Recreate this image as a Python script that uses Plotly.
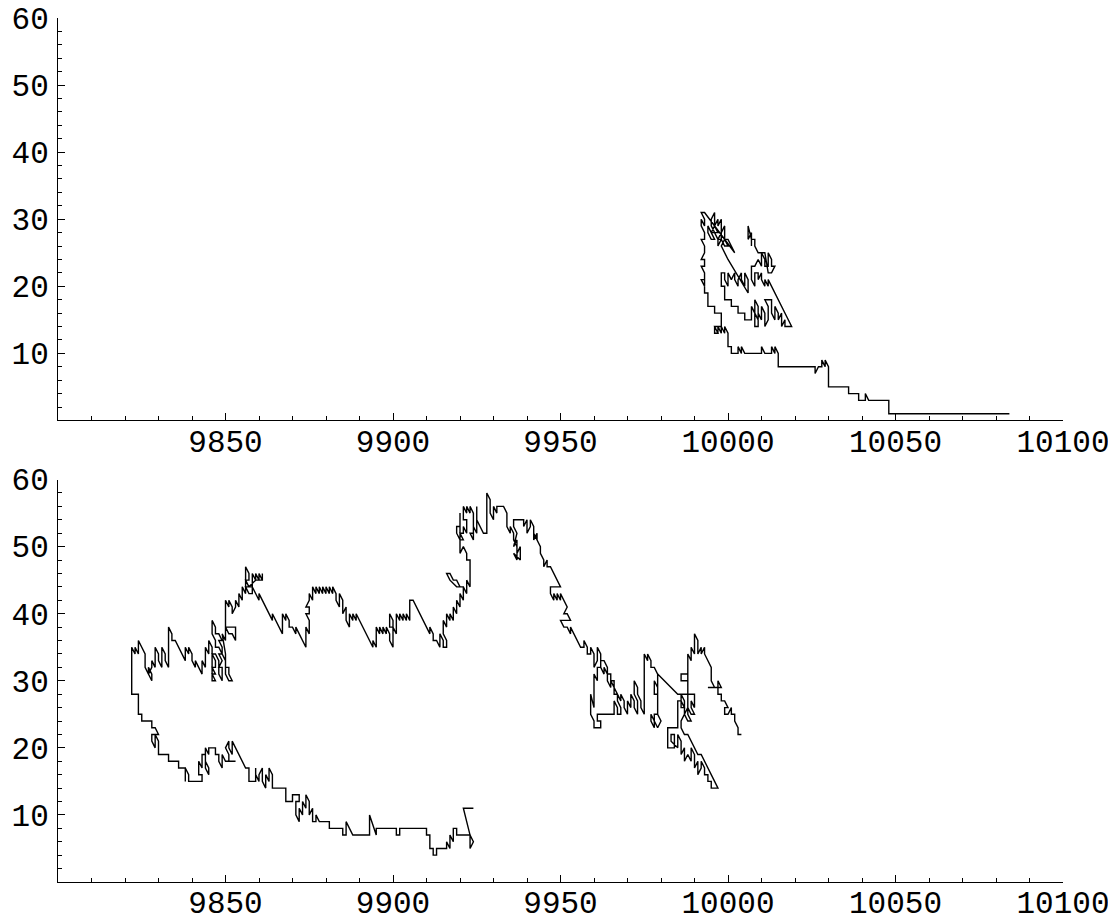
import plotly.graph_objects as go
from plotly.subplots import make_subplots

# ---------------- data: lattice walk vertices (x, y) ----------------
# top panel
TOP_STAIRS = [(10084,1),(10048,1),(10048,3),(10042,3),(10041,4),(10041,3),(10039,3),(10039,4),(10036,4),
              (10036,5),(10030,5),(10030,8),(10029,9),(10029,8),(10028,9),(10028,8),(10027,8),(10026,7),
              (10026,8),(10015,8),(10015,10),(10014,11),(10014,10),(10013,11),(10013,10),(10011,10),
              (10010,11),(10010,10),(10005,10),(10004,11),(10004,10),(10003,11),(10003,10),(10001,10),
              (10001,11),(10000,11),(10000,13)]
TOP_LEFT = [(10000,13),(9999,14),(9999,13),(9998,14),(9998,13),(9997,14),(9997,13),(9996,14),(9996,13),
            (9997,13),(9996,14),(9998,14),(9998,16),(9996,16),(9996,17),(9994,17),(9994,19),(9993,19),
            (9993,21),(9992,21),(9993,20),(9993,22),(9992,23),(9993,23),(9993,24),(9992,24),(9993,25),
            (9993,26),(9992,27),(9993,27),(9993,28),(9992,29),(9992,30),(9993,29),(9993,30),(9992,31),
            (9993,31),(10002,25),(10000,27),(9999,27),(9999,29),(9998,28),(9998,30),(9997,29),(9997,30),
            (9996,29),(9996,31),(9995,30),(9995,29),(9996,28),(9997,28),(9996,29),(9995,28),(9994,29),
            (9994,28),(9995,27),(9996,27),(9995,28),(9996,28),(9997,27),(9998,28),(9998,27),(9997,26),
            (9997,27),(9998,27),(9999,26),(10000,26),(9999,27),(9998,26),(10000,24),(10006,19)]
TOP_MIDDLE = [(10006,19),(10006,21),(10005,22),(10005,20),(10004,21),(10004,22),(10003,21),(10003,20),
              (10002,21),(10002,22),(10001,21),(10000,22),(10000,20),(9999,21),(9999,22),(9998,22),
              (9998,20),(9999,20),(9999,18),(10001,18),(10001,17),(10003,17),(10003,16),(10005,16),
              (10005,15),(10007,15),(10007,17),(10008,16),(10008,18),(10009,17),(10009,15),(10008,16),
              (10008,14),(10009,14),(10009,16),(10010,15),(10010,17),(10011,16),(10011,14),(10012,15),
              (10012,17),(10011,18),(10013,18),(10013,16),(10014,15),(10014,17),(10015,16),(10015,15),
              (10016,16),(10016,14),(10017,15),(10017,14),(10019,14)]
TOP_RIGHT = [(10019,14),(10018,15),(10017,16),(10016,17),(10015,18),(10014,19),(10013,20),(10012,21),
             (10012,20),(10011,21),(10011,20),(10010,21),(10010,22),(10009,21),(10009,22),(10008,22),
             (10008,20),(10007,21),(10007,23),(10008,23),(10009,24),(10010,23),(10010,25),(10011,24),
             (10011,23),(10012,23),(10012,25),(10013,24),(10013,23),(10014,23),(10013,22),(10012,22),
             (10011,25),(10009,25),(10008,26),(10008,27),(10007,27),(10006,29),(10006,27),(10007,28),
             (10007,26)]

# bottom panel
BOT_TAIL = [(9924,11),(9921,11),(9923,7),(9924,6),(9923,5),(9923,7),(9919,7),(9919,8),(9918,8),(9918,6),
            (9917,7),(9917,5),(9916,6),(9916,5),(9913,5),(9913,4),(9912,4),(9912,5),(9911,5),(9911,7),
            (9910,7),(9910,8),(9902,8),(9902,7),(9901,7),(9901,8),(9895,8),(9895,7),(9893,10),(9893,7),
            (9888,7),(9886,9),(9886,7),(9885,7),(9885,8),(9881,8),(9881,9),(9878,9)]
BOT_LOWER = [(9878,9),(9877,10),(9877,9),(9876,9),(9876,11),(9875,10),(9875,12),(9874,13),(9874,11),
             (9873,12),(9873,10),(9872,11),(9872,9),(9871,10),(9871,12),(9872,12),(9872,13),(9870,13),
             (9870,12),(9868,12),(9868,14),(9864,14),(9864,16),(9863,17),(9863,15),(9862,16),(9862,14),
             (9861,15),(9861,17),(9860,16),(9860,15),(9859,16),(9859,17),(9859,15),(9857,15),(9857,17),
             (9856,17),(9852,21),(9852,19),(9851,20),(9851,21),(9850,20),(9851,19),(9851,18),(9853,18),
             (9850,18),(9849,19),(9849,17),(9848,18),(9848,19),(9847,19),(9847,20),(9845,20),(9845,19),
             (9844,20),(9844,18),(9845,17),(9845,16),(9844,17),(9844,19),(9843,19),(9843,17),(9842,18),
             (9842,16),(9843,16),(9843,15),(9839,15),(9839,16),(9838,17),(9838,15),(9838,17),(9836,17),
             (9836,18),(9833,18),(9833,19),(9830,19),(9830,21),(9829,22),(9829,20),(9828,21),(9828,22),
             (9830,22),(9829,23),(9828,23),(9828,24),(9825,24),(9825,25),(9824,25),(9824,28),(9822,28),
             (9822,34)]
BOT_ARC = [(9822,34),(9822,35),(9823,34),(9823,35),(9824,34),(9824,36),(9826,34),(9826,32),(9827,31),
           (9827,32),(9828,31),(9828,30),(9827,31),(9828,32),(9828,33),(9829,32),(9829,35),(9830,34),
           (9830,33),(9831,32),(9831,35),(9832,34),(9832,33),(9833,32),(9833,38),(9834,37),(9834,36),
           (9835,36),(9838,33),(9838,35),(9839,34),(9839,35),(9840,34),(9840,33),(9841,32),(9841,33),
           (9843,31),(9843,33),(9844,32),(9844,35),(9845,34),(9845,36),(9846,35),(9846,30),(9847,30),
           (9846,31),(9847,31),(9846,32),(9847,32),(9847,33),(9846,34),(9847,34),(9848,33),(9848,31),
           (9849,30),(9849,32),(9848,32),(9849,33),(9848,34),(9849,34),(9849,35),(9848,36),(9849,36),
           (9848,37),(9847,37),(9847,38),(9846,39),(9846,37),(9847,36),(9847,35),(9848,35),(9850,33),
           (9850,31),(9851,30),(9852,30),(9851,31),(9851,32),(9850,32),(9850,34),(9849,37),(9850,36),
           (9850,38),(9853,38),(9853,36),(9852,37),(9851,37),(9850,38),(9850,42),(9851,41),(9851,42),
           (9852,41),(9852,40),(9853,41),(9853,42),(9854,41),(9854,43),(9855,42),(9855,44),(9856,43),
           (9856,47),(9857,46),(9857,45),(9856,45),(9857,44),(9856,44),(9857,43),(9858,43),(9858,46),
           (9859,45),(9859,46),(9860,45),(9860,46),(9861,45),(9861,46),(9861,45),(9859,45),(9857,44),
           (9858,44),(9859,43),(9860,42),(9860,43),(9861,42),(9864,39),(9864,40),(9865,39),(9867,37),
           (9867,40),(9868,39),(9868,40),(9869,39),(9869,38),(9870,38),(9871,37),(9871,38),(9872,37),
           (9874,35),(9874,38),(9875,37),(9875,39),(9874,40),(9875,40),(9875,41),(9874,41),(9875,42),
           (9875,43),(9876,42),(9876,44),(9877,43),(9877,44),(9878,43),(9878,44),(9879,43),(9879,44),
           (9880,43),(9880,44),(9881,43),(9881,44),(9882,43),(9882,44),(9883,43),(9883,42),(9884,41),
           (9884,43),(9885,42),(9885,40),(9886,41),(9886,39),(9887,38),(9887,40),(9888,39),(9888,40),
           (9889,39),(9889,40),(9894,35),(9894,36),(9895,35),(9895,38),(9896,37),(9896,38),(9897,37),
           (9897,38),(9898,37),(9898,38),(9899,37),(9899,36),(9900,35),(9900,39),(9899,40),(9899,38),
           (9900,38),(9901,37),(9901,40),(9902,39),(9902,40),(9903,39),(9903,40),(9904,39),(9904,40),
           (9905,39),(9905,42),(9906,42),(9911,37),(9911,38),(9912,37),(9912,36),(9913,36),(9914,35),
           (9914,37),(9915,36),(9915,35),(9916,35),(9916,36),(9915,37),(9915,39),(9916,38),(9916,40),
           (9917,39),(9917,40),(9918,39),(9918,41),(9919,40),(9919,42),(9920,41),(9920,43),(9921,42),
           (9921,44),(9920,44),(9919,45),(9918,45),(9917,46),(9916,46),(9917,45),(9919,44),(9921,44),
           (9922,43),(9922,45),(9923,44),(9923,48),(9922,48),(9922,49),(9921,50),(9920,49),(9920,50),
           (9920,55),(9920,53),(9919,53),(9919,52),(9920,51),(9921,51),(9920,52),(9921,52),(9921,53),
           (9922,52),(9922,54),(9921,54),(9921,56),(9922,55),(9922,56),(9923,55),(9923,56),(9924,55),
           (9924,52),(9923,52),(9924,51),(9924,53),(9925,52),(9925,56),(9925,54),(9927,52),(9928,52),
           (9928,58),(9929,57),(9929,55),(9930,54),(9930,56),(9931,55),(9931,56),(9933,56),(9934,55),
           (9934,53),(9935,52),(9935,53),(9936,52),(9936,51),(9937,50),(9937,48),(9936,49),(9938,48),
           (9938,50),(9937,49),(9937,51),(9936,50),(9937,52),(9936,53),(9936,54),(9939,54),(9939,53),
           (9940,54),(9940,52),(9941,53),(9941,54),(9942,53),(9942,51),(9943,52),(9943,51),(9942,52),
           (9944,50),(9944,49),(9945,48),(9945,47),(9946,48),(9946,47),(9947,47),(9950,44),(9947,44),
           (9947,43),(9948,42),(9948,43),(9949,42),(9949,43),(9950,42),(9950,43),(9952,41),(9951,40),
           (9952,40),(9953,39),(9951,39),(9950,39),(9951,38),(9952,38),(9953,37),(9953,38),(9956,35),
           (9957,35)]
BOT_RIGHT = [(9957,35),(9957,36),(9958,35),(9958,34),(9959,34),(9959,35),(9960,34),(9960,32),(9961,33),
             (9961,35),(9962,34),(9962,32),(9961,32),(9961,30),(9960,31),(9960,26),(9959,28),(9959,25),
             (9960,24),(9960,23),(9962,23),(9962,24),(9961,24),(9961,25),(9963,25),(9966,25),(9966,27),
             (9967,26),(9967,25),(9968,25),(9968,26),(9967,27),(9967,28),(9966,29),(9966,30),(9965,30),
             (9965,31),(9964,31),(9964,32),(9963,33),(9962,33),(9962,32),(9963,31),(9963,32),(9964,31),
             (9964,30),(9965,29),(9965,30),(9966,29),(9966,28),(9967,28),(9968,27),(9968,28),(9969,27),
             (9969,26),(9970,25),(9970,27),(9971,26),(9971,28),(9972,27),(9972,26),(9973,25),(9973,27),
             (9972,28),(9972,30),(9973,29),(9973,28),(9974,27),(9974,26),(9975,25),(9975,34),(9976,33),
             (9976,34),(9977,33),(9977,32),(9978,32),(9979,31),(9979,29),(9978,30),(9978,28),(9979,28),
             (9979,25),(9978,25),(9978,23),(9977,24),(9977,25),(9978,24),(9979,23),(9980,24),(9979,25),
             (9979,31),(9985,28),(9990,28),(9990,26),(9989,27),(9989,26),(9990,25),(9989,25),(9988,26),
             (9988,25),(9989,24),(9988,24),(9987,25),(9987,27),(9986,28),(9986,26),(9987,26),(9986,27),
             (9985,27),(9985,23),(9982,23),(9982,20),(9984,20),(9984,22),(9983,22),(9983,21),(9985,20),
             (9985,22),(9986,21),(9986,19),(9987,20),(9987,18),(9988,19),(9989,18),(9989,20),(9990,19),
             (9990,17),(9991,18),(9991,16),(9992,17),(9992,18),(9993,17),(9993,16),(9994,16),(9994,15),
             (9995,15),(9995,14),(9997,14),(9996,15),(9995,16),(9994,17),(9993,18),(9992,19),(9991,19),
             (9990,20),(9989,21),(9988,22),(9987,22),(9986,23),(9986,24),(9988,26),(9988,31),(9986,31),
             (9986,30),(9988,30),(9988,34),(9989,33),(9989,35),(9990,34),(9990,37),(9991,36),(9991,34),
             (9992,35),(9992,34),(9993,35),(9993,34),(9995,32),(9995,30),(9996,29),(9994,29),(9998,29),
             (9997,30),(9997,28),(9998,28),(9998,27),(9999,27),(10000,26),(9999,26),(9999,25),(10000,25),
             (10001,26),(10001,25),(10002,25),(10002,24),(10003,23),(10003,22),(10004,22)]

X_TICKS = [9850, 9900, 9950, 10000, 10050, 10100]
Y_TICKS = [10, 20, 30, 40, 50, 60]


def flatten(*segments):
    xs, ys = [], []
    for seg in segments:
        for x, y in seg:
            xs.append(x)
            ys.append(y)
    return xs, ys


top_x, top_y = flatten(TOP_STAIRS, TOP_LEFT, TOP_MIDDLE, TOP_RIGHT)
bot_x, bot_y = flatten(BOT_TAIL, BOT_LOWER, BOT_ARC, BOT_RIGHT)

# the page body adds an 8px offset, so the figure is 8px smaller and margins shifted
fig = make_subplots(rows=2, cols=1, vertical_spacing=0.0684)
line = dict(color="black", width=1.4)
fig.add_trace(go.Scatter(x=top_x, y=top_y, mode="lines", line=line, showlegend=False), row=1, col=1)
fig.add_trace(go.Scatter(x=bot_x, y=bot_y, mode="lines", line=line, showlegend=False), row=2, col=1)

font = dict(family="Liberation Mono", size=31, color="black")
for r in (1, 2):
    fig.update_xaxes(range=[9800, 10100], showline=True, linecolor="black", linewidth=1,
                     showgrid=False, zeroline=False, ticks="inside", ticklen=7, tickwidth=1,
                     tickcolor="black", tickvals=X_TICKS, ticktext=[str(v) for v in X_TICKS],
                     tickfont=font, ticklabelstandoff=-7, automargin=False,
                     ticklabeloverflow="allow",
                     minor=dict(ticks="inside", ticklen=4, dtick=10, tick0=9800, tickcolor="black",
                                showgrid=False),
                     row=r, col=1)
    fig.update_yaxes(range=[0, 60], showline=True, linecolor="black", linewidth=1,
                     showgrid=False, zeroline=False, ticks="inside", ticklen=7, tickwidth=1,
                     tickcolor="black", tickvals=Y_TICKS, ticktext=[str(v) for v in Y_TICKS],
                     tickfont=font, ticklabelstandoff=2, automargin=False,
                     ticklabeloverflow="allow",
                     minor=dict(ticks="inside", ticklen=4, dtick=2, tick0=0, tickcolor="black",
                                showgrid=False),
                     row=r, col=1)

fig.update_layout(width=1108, height=913, margin=dict(l=50, r=53, t=10, b=39),
                  paper_bgcolor="white", plot_bgcolor="white")
fig.write_html("out.html")
